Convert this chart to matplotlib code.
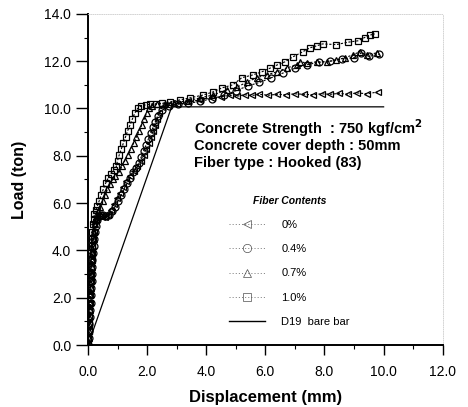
import matplotlib.pyplot as plt
from matplotlib.lines import Line2D
from matplotlib.ticker import MultipleLocator

plt.rcParams['font.family'] = ['Liberation Sans', 'DejaVu Sans']

# fiber content 1.0 %
disp_10 = [0.0, 0.01, 0.02, 0.03, 0.03, 0.04, 0.05, 0.05, 0.06, 0.07, 0.08, 0.09, 0.10, 0.11, 0.12,
           0.13, 0.15, 0.17, 0.19, 0.22, 0.26, 0.32, 0.38, 0.45, 0.52, 0.60, 0.68, 0.77, 0.87, 0.96,
           1.00, 1.06, 1.13, 1.20, 1.27, 1.34, 1.42, 1.50, 1.58, 1.68, 1.80, 1.95, 2.10, 2.30, 2.50,
           2.77, 3.10, 3.45, 3.90, 4.23, 4.53, 4.90, 5.20, 5.58, 5.88, 6.15, 6.40, 6.66, 6.93, 7.27,
           7.50, 7.74, 7.94, 8.40, 8.79, 9.13, 9.36, 9.53, 9.70]
load_10 = [0.0, 0.3, 0.6, 0.9, 1.2, 1.5, 1.8, 2.1, 2.4, 2.7, 3.0, 3.3, 3.6, 3.9, 4.2,
           4.5, 4.8, 5.1, 5.35, 5.55, 5.7, 5.9, 6.1, 6.35, 6.6, 6.85, 7.05, 7.25, 7.4, 7.55,
           7.8, 8.05, 8.3, 8.55, 8.8, 9.05, 9.3, 9.55, 9.8, 10.0, 10.12, 10.15, 10.18, 10.2, 10.22,
           10.28, 10.36, 10.45, 10.57, 10.70, 10.87, 11.0, 11.3, 11.42, 11.55, 11.7, 11.84, 11.97, 12.18, 12.4,
           12.56, 12.65, 12.73, 12.7, 12.8, 12.86, 13.0, 13.1, 13.15]

# fiber content 0.7 %
disp_07 = [0.0, 0.02, 0.03, 0.04, 0.05, 0.06, 0.07, 0.08, 0.09, 0.10, 0.11, 0.12, 0.14, 0.15, 0.17,
           0.19, 0.21, 0.23, 0.26, 0.30, 0.35, 0.42, 0.50, 0.58, 0.66, 0.74, 0.83, 0.92, 1.05, 1.15,
           1.25, 1.35, 1.45, 1.55, 1.64, 1.73, 1.82, 1.90, 1.98, 2.06, 2.18, 2.35, 2.60, 2.90, 3.35,
           3.79, 4.23, 4.70, 5.04, 5.38, 5.71, 6.05, 6.39, 6.73, 7.07, 7.17, 7.40, 7.74, 8.08, 8.40,
           8.69, 8.96, 9.20, 9.43, 9.77]
load_07 = [0.0, 0.3, 0.6, 0.9, 1.2, 1.5, 1.8, 2.1, 2.4, 2.7, 3.0, 3.3, 3.6, 3.9, 4.2,
           4.5, 4.8, 5.1, 5.35, 5.5, 5.65, 5.85, 6.1, 6.35, 6.6, 6.8, 7.0, 7.15, 7.3, 7.55,
           7.8, 8.05, 8.3, 8.55, 8.8, 9.05, 9.3, 9.55, 9.8, 10.02, 10.12, 10.18, 10.2, 10.25, 10.32,
           10.45, 10.57, 10.79, 10.9, 11.12, 11.3, 11.42, 11.55, 11.72, 11.84, 11.97, 11.93, 11.97, 11.97, 12.06,
           12.14, 12.27, 12.4, 12.27, 12.35]

# fiber content 0.4 %
disp_04 = [0.0, 0.02, 0.04, 0.05, 0.06, 0.08, 0.09, 0.10, 0.11, 0.12, 0.13, 0.14, 0.15, 0.17, 0.19,
           0.21, 0.23, 0.26, 0.30, 0.36, 0.44, 0.52, 0.62, 0.72, 0.82, 0.92, 1.02, 1.12, 1.22, 1.32,
           1.42, 1.52, 1.62, 1.72, 1.80, 1.88, 1.96, 2.04, 2.12, 2.20, 2.28, 2.36, 2.50, 2.75, 3.05,
           3.40, 3.80, 4.20, 4.60, 5.00, 5.40, 5.80, 6.20, 6.60, 7.00, 7.40, 7.80, 8.20, 8.60, 9.00,
           9.25, 9.50, 9.85]
load_04 = [0.0, 0.3, 0.6, 0.9, 1.2, 1.5, 1.8, 2.1, 2.4, 2.7, 3.0, 3.3, 3.6, 3.9, 4.2,
           4.5, 4.8, 5.05, 5.3, 5.45, 5.5, 5.5, 5.45, 5.5, 5.65, 5.85, 6.1, 6.35, 6.6, 6.85,
           7.05, 7.3, 7.5, 7.7, 7.95, 8.2, 8.45, 8.7, 8.95, 9.2, 9.45, 9.7, 9.95, 10.1, 10.18,
           10.22, 10.3, 10.42, 10.55, 10.75, 10.95, 11.1, 11.3, 11.5, 11.7, 11.85, 11.95, 12.0, 12.1, 12.15,
           12.35, 12.2, 12.3]

# fiber content 0 %
disp_00 = [0.0, 0.01, 0.02, 0.03, 0.04, 0.05, 0.06, 0.07, 0.08, 0.09, 0.10, 0.11, 0.12, 0.13, 0.15,
           0.17, 0.19, 0.22, 0.26, 0.32, 0.40, 0.48, 0.58, 0.68, 0.78, 0.88, 0.98, 1.08, 1.18, 1.30,
           1.42, 1.54, 1.66, 1.78, 1.88, 1.97, 2.05, 2.13, 2.20, 2.27, 2.34, 2.40, 2.50, 2.70, 3.00,
           3.40, 3.80, 4.20, 4.50, 4.80, 5.05, 5.30, 5.55, 5.80, 6.10, 6.40, 6.70, 7.00, 7.30, 7.60,
           7.90, 8.20, 8.50, 8.80, 9.10, 9.45, 9.80]
load_00 = [0.0, 0.3, 0.6, 0.9, 1.2, 1.5, 1.8, 2.1, 2.4, 2.7, 3.0, 3.3, 3.6, 3.9, 4.2,
           4.5, 4.8, 5.1, 5.3, 5.4, 5.45, 5.4, 5.4, 5.5, 5.7, 5.95, 6.2, 6.45, 6.7, 6.95,
           7.15, 7.35, 7.55, 7.8, 8.05, 8.3, 8.55, 8.8, 9.05, 9.3, 9.55, 9.8, 10.05, 10.15, 10.2,
           10.3, 10.35, 10.45, 10.5, 10.55, 10.52, 10.58, 10.55, 10.6, 10.56, 10.6, 10.58, 10.62, 10.6, 10.58,
           10.62, 10.6, 10.64, 10.6, 10.66, 10.62, 10.7]

# D19 bare bar
bare_disp = [0.0, 2.83, 10.0]
bare_load = [0.0, 10.07, 10.07]

series = [
    (disp_00, load_00, '<', '0%'),
    (disp_04, load_04, 'o', '0.4%'),
    (disp_07, load_07, '^', '0.7%'),
    (disp_10, load_10, 's', '1.0%'),
]

fig = plt.figure(figsize=(4.68, 4.07), dpi=100)
ax = fig.add_axes([0.188, 0.152, 0.758, 0.814])

handles = []
for d, l, m, lab in series:
    ax.plot(d, l, linestyle=(0, (2, 1.5)), lw=0.8, color='black', marker=m, markersize=5,
            markerfacecolor='none', markeredgewidth=0.9, markeredgecolor='black')
    handles.append(Line2D([], [], linestyle=(0, (1.5, 3)), lw=0.5, color='0.3', marker=m,
                          markersize=6, markerfacecolor='none', markeredgewidth=0.5,
                          markeredgecolor='0.3'))
ax.plot(bare_disp, bare_load, color='black', lw=0.9)
handles.append(Line2D([], [], color='black', lw=1.0))
labels = [s[3] for s in series] + ['D19  bare bar']

ax.set_xlim(0, 12)
ax.set_ylim(0, 14)
ax.xaxis.set_major_locator(MultipleLocator(2))
ax.xaxis.set_minor_locator(MultipleLocator(1))
ax.yaxis.set_major_locator(MultipleLocator(2))
ax.yaxis.set_minor_locator(MultipleLocator(1))
ax.xaxis.set_major_formatter(lambda v, p: f'{v:.1f}')
ax.yaxis.set_major_formatter(lambda v, p: f'{v:.1f}')
ax.tick_params(which='major', direction='out', width=1.0, labelsize=10)
ax.tick_params(axis='x', which='major', length=7.5, pad=6.5)
ax.tick_params(axis='y', which='major', length=9, pad=3)
ax.tick_params(which='minor', direction='out', length=3, width=0.8)

for s in ['left', 'bottom']:
    ax.spines[s].set_linewidth(1.4)
for s in ['top', 'right']:
    ax.spines[s].set_linewidth(0.6)
    ax.spines[s].set_color('0.8')
    ax.spines[s].set_linestyle(':')

ax.set_xlabel('Displacement (mm)', fontsize=12, fontweight='bold', labelpad=8)
ax.set_ylabel('Load (ton)', fontsize=11.5, fontweight='bold')
ax.yaxis.set_label_coords(-0.172, 0.5)

ax.text(3.58, 8.93, 'Concrete Strength  : 750 kgf/cm$^\\mathbf{2}$', fontsize=10.5, fontweight='bold')
ax.text(3.58, 8.23, 'Concrete cover depth : 50mm', fontsize=10.5, fontweight='bold')
ax.text(3.58, 7.53, 'Fiber type : Hooked (83)', fontsize=10.5, fontweight='bold')

leg = ax.legend(handles, labels, title='Fiber Contents', frameon=False, loc='upper left',
                bbox_to_anchor=(0.37, 0.48), fontsize=8, title_fontsize=7.5,
                handlelength=3.2, labelspacing=1.27, handletextpad=1.5)
leg.get_title().set_fontweight('bold')
leg.get_title().set_fontstyle('italic')

fig.savefig('out.png', dpi=100)
